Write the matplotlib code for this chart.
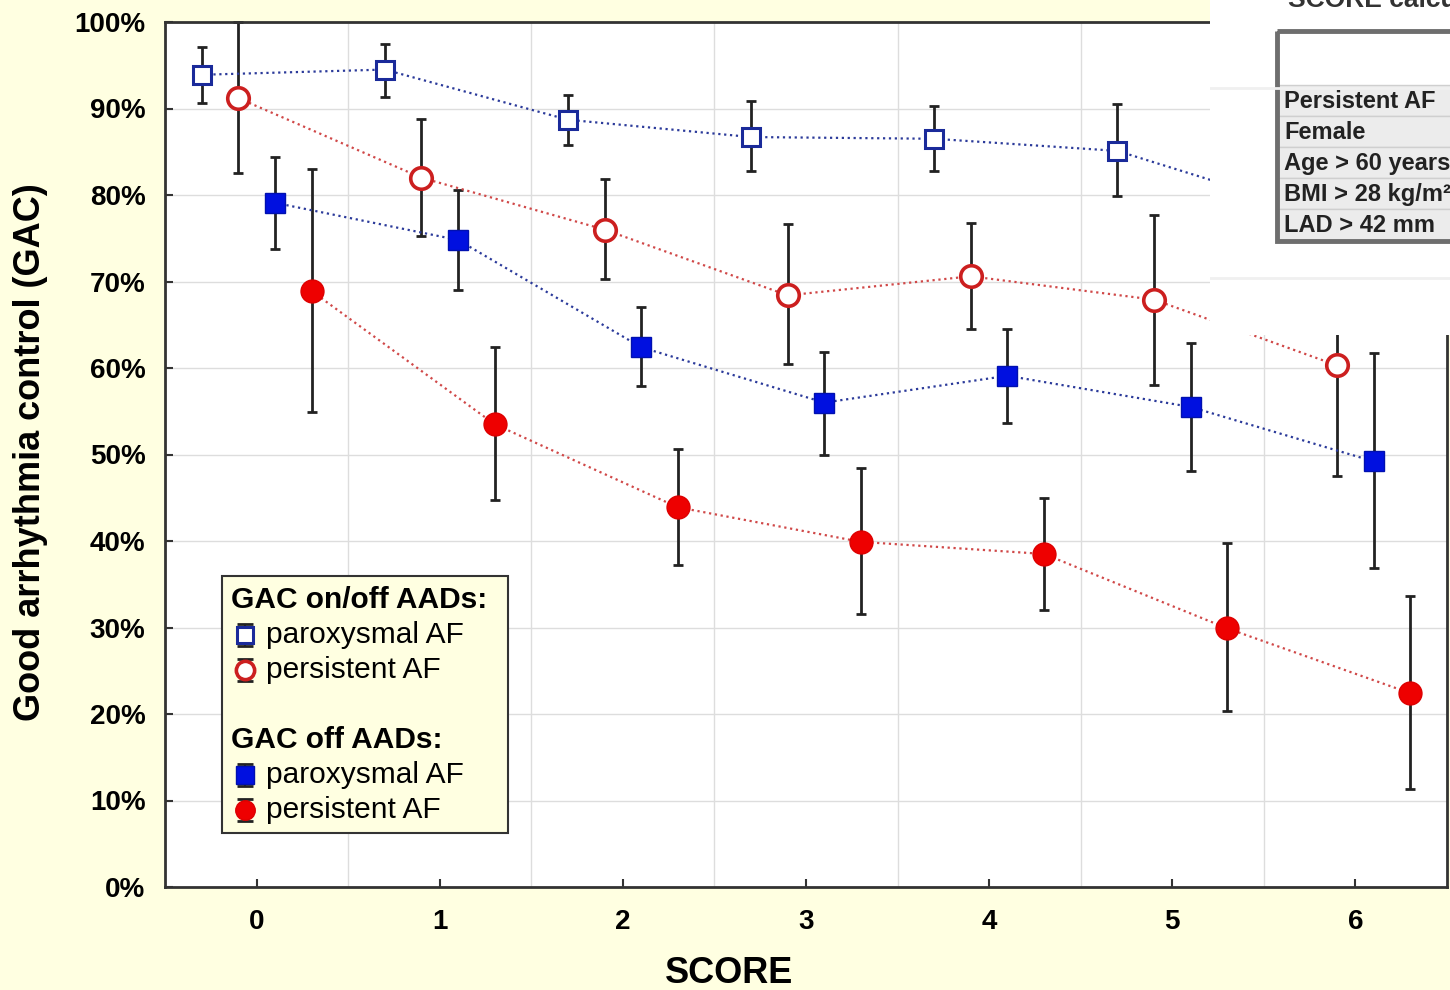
import matplotlib
matplotlib.use("Agg")
import matplotlib.pyplot as plt
from matplotlib.patches import Rectangle
from matplotlib.ticker import FixedLocator

plt.rcParams['font.family'] = ['Liberation Sans', 'DejaVu Sans']

# data (percent)
scores = [0, 1, 2, 3, 4, 5, 6]

par_onoff = [93.9, 94.5, 88.7, 86.7, 86.5, 85.1, 78.5]
par_onoff_lo = [90.6, 91.3, 85.8, 82.8, 82.8, 79.9, 73.0]
par_onoff_hi = [97.1, 97.5, 91.6, 90.9, 90.3, 90.5, 84.0]

per_onoff = [91.2, 82.0, 76.0, 68.4, 70.6, 67.9, 60.3]
per_onoff_lo = [82.5, 75.3, 70.3, 60.5, 64.5, 58.0, 47.5]
per_onoff_hi = [100.0, 88.8, 81.8, 76.6, 76.8, 77.7, 73.0]

par_off = [79.1, 74.8, 62.4, 56.0, 59.1, 55.5, 49.2]
par_off_lo = [73.8, 69.0, 57.9, 49.9, 53.6, 48.1, 36.9]
par_off_hi = [84.4, 80.6, 67.1, 61.8, 64.5, 62.9, 61.7]

per_off = [68.9, 53.5, 43.9, 39.9, 38.5, 29.9, 22.4]
per_off_lo = [54.9, 44.7, 37.2, 31.6, 32.0, 20.3, 11.3]
per_off_hi = [83.0, 62.4, 50.6, 48.4, 45.0, 39.8, 33.6]

table_rows = ["Persistent AF", "Female", "Age > 60 years", "BMI > 28 kg/m²", "LAD > 42 mm"]

BG = '#FFFFE1'
BLUE_LINE = '#2b3a9a'
RED_LINE = '#d04848'

fig = plt.figure(figsize=(14.5, 9.9), dpi=100, facecolor=BG)
ax = fig.add_axes([165 / 1450, 1 - 887 / 990, 1282 / 1450, 865 / 990])
ax.set_facecolor('white')

series = [
    (-0.3, par_onoff, par_onoff_lo, par_onoff_hi,
     dict(marker='s', ms=13, mfc='white', mec='#1a2a9a', mew=2.2, color=BLUE_LINE)),
    (-0.1, per_onoff, per_onoff_lo, per_onoff_hi,
     dict(marker='o', ms=15.5, mfc='white', mec='#cc1f1f', mew=2.6, color=RED_LINE)),
    (0.1, par_off, par_off_lo, par_off_hi,
     dict(marker='s', ms=14.5, mfc='#0010e0', mec='#0010b0', mew=1, color=BLUE_LINE)),
    (0.3, per_off, per_off_lo, per_off_hi,
     dict(marker='o', ms=16.5, mfc='#ee0000', mec='#dd0000', mew=1, color=RED_LINE)),
]

for off, vals, lo, hi, style in series:
    xs = [s + off for s in scores]
    err = [[v - l for v, l in zip(vals, lo)], [h - v for v, h in zip(vals, hi)]]
    ax.errorbar(xs, vals, yerr=err, fmt='none', ecolor='#222222', elinewidth=2,
                capsize=3.5, capthick=2, zorder=2, clip_on=False)
    ax.plot(xs, vals, linestyle=':', lw=1.6, zorder=3, clip_on=False, **style)

ax.set_xlim(-0.5, 6.5)
ax.set_ylim(0, 100)
ax.set_xticks(scores)
ax.xaxis.set_minor_locator(FixedLocator([0.5, 1.5, 2.5, 3.5, 4.5, 5.5]))
ax.set_yticks(range(0, 101, 10))
ax.set_yticklabels([f"{v}%" for v in range(0, 101, 10)])
ax.grid(axis='y', which='major', color='#dddddd', lw=1)
ax.grid(axis='x', which='minor', color='#dddddd', lw=1)
ax.set_axisbelow(True)
ax.tick_params(axis='x', which='minor', length=0)
ax.tick_params(axis='both', which='major', direction='in', length=6, width=1.5,
               color='#333333', labelsize=20)
ax.tick_params(axis='x', pad=16)
ax.tick_params(axis='y', pad=14)
for lab in ax.get_xticklabels() + ax.get_yticklabels():
    lab.set_fontweight('bold')
for sp in ax.spines.values():
    sp.set_color('#333333')
    sp.set_linewidth(2)

ax.set_xlabel("SCORE", fontsize=26, fontweight='bold')
ax.xaxis.set_label_coords(0.44, -0.08)
ax.set_ylabel("Good arrhythmia control (GAC)", fontsize=26, fontweight='bold')
ax.yaxis.set_label_coords(-0.0913, 0.503)

# legend drawn by hand so the headings sit flush left
lx0, ly0 = (222 - 165) / 1282, (887 - 833) / 865
lw_, lh_ = (508 - 222) / 1282, (833 - 576) / 865
ax.add_patch(Rectangle((lx0, ly0), lw_, lh_, transform=ax.transAxes, facecolor=BG,
                       edgecolor='#333333', lw=1.5, zorder=5))
head_x = (231 - 165) / 1282
mark_x = (245 - 165) / 1282
text_x = (266 - 165) / 1282
ax.text(head_x, (887 - 600) / 865, "GAC on/off AADs:", transform=ax.transAxes,
        fontsize=21.5, fontweight='bold', va='center', zorder=6)
ax.text(head_x, (887 - 740) / 865, "GAC off AADs:", transform=ax.transAxes,
        fontsize=21.5, fontweight='bold', va='center', zorder=6)
leg_rows = [(635, series[0][4], "paroxysmal AF"), (670, series[1][4], "persistent AF"),
            (775, series[2][4], "paroxysmal AF"), (810, series[3][4], "persistent AF")]
for py, style, label in leg_rows:
    fy = (887 - py) / 865
    st = dict(style)
    st['ms'] = st['ms'] * 0.85
    st.pop('color')
    ax.plot([mark_x, mark_x], [fy - 0.012, fy + 0.012], color='#222222', lw=1.5,
            transform=ax.transAxes, zorder=6, clip_on=False)
    ax.plot([mark_x, mark_x], [fy - 0.013, fy + 0.013], marker='_', ms=12, mew=2,
            color='#222222', linestyle='none', transform=ax.transAxes, zorder=6, clip_on=False)
    ax.plot([mark_x], [fy], linestyle='none', transform=ax.transAxes, zorder=7,
            clip_on=False, **st)
    ax.text(text_x, fy, label, transform=ax.transAxes, fontsize=21.5, va='center', zorder=6)

# pasted screenshot covering the upper right corner
ov = fig.add_axes([1210 / 1450, 1 - 335 / 990, 240 / 1450, 335 / 990], zorder=10)
ov.set_facecolor('white')
ov.set_xlim(1210, 1450)
ov.set_ylim(335, 0)
ov.set_xticks([])
ov.set_yticks([])
for sp in ov.spines.values():
    sp.set_visible(False)
ov.axhline(88, color='#f0f0f0', lw=2)
ov.axhline(278, color='#f0f0f0', lw=2)
ov.text(1288, 12, "SCORE calculation", fontsize=19, fontweight='bold', color='#333333',
        va='bottom', clip_on=False)
ov.add_patch(Rectangle((1277, 31), 200, 54, facecolor='white', edgecolor='none'))
row_h = 31
for i, name in enumerate(table_rows):
    top = 85 + i * row_h
    ov.add_patch(Rectangle((1277, top), 200, row_h, facecolor='#ececec',
                           edgecolor='#cfcfcf', lw=1))
    ov.text(1284, top + row_h / 2 + 1, name, fontsize=17, fontweight='bold',
            color='#222222', va='center')
ov.add_patch(Rectangle((1277, 31), 200, 210, facecolor='none', edgecolor='#6e6e6e', lw=3.5))

fig.savefig("out.png", dpi=100, facecolor=BG)
